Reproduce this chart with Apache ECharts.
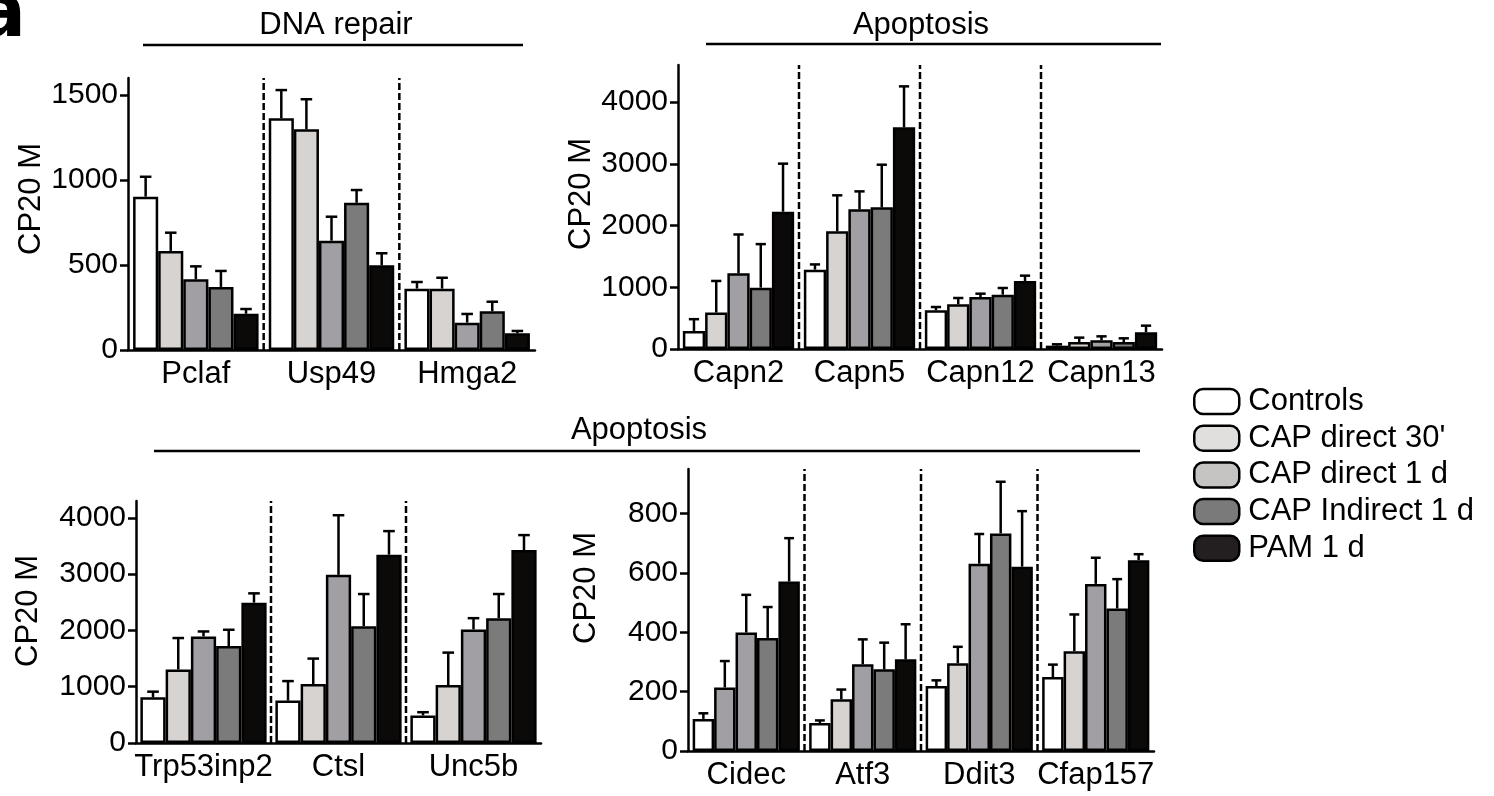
<!DOCTYPE html>
<html><head><meta charset="utf-8">
<script src="https://cdn.jsdelivr.net/npm/echarts@6/dist/echarts.min.js"></script>
<style>html,body{margin:0;padding:0;background:#fff}#c{width:1494px;height:796px}</style>
</head><body><div id="c"></div>
<script>
// ---------- data ----------
const groups = ['Controls', "CAP direct 30'", 'CAP direct 1 d', 'CAP Indirect 1 d', 'PAM 1 d'];

// DNA repair (top left)
const dnaGenes = ['Pclaf', 'Usp49', 'Hmga2'];
const dnaMean = [[902,1363,361],[583,1298,361],[416,643,161],[371,866,228],[213,498,98]];
const dnaErr  = [[117,166,39],[107,177,64],[76,141,51],[94,75,56],[28,71,14]];
const dnaTicks = [0,500,1000,1500];

// Apoptosis, calpains (top right)
const capnGenes = ['Capn2', 'Capn5', 'Capn12', 'Capn13'];
const capnMean = [[293,1285,626,54],[590,1906,723,113],[1225,2262,842,140],[994,2294,880,113],[2224,3590,1101,270]];
const capnErr  = [[190,85,54,22],[512,583,103,71],[630,291,54,65],[705,691,108,60],[778,664,87,108]];
const capnTicks = [0,1000,2000,3000,4000];

// Apoptosis (bottom left)
const apoGenes = ['Trp53inp2', 'Ctsl', 'Unc5b'];
const apoMean = [[812,753,488],[1306,1047,1029],[1894,2988,2018],[1724,2076,2218],[2494,3347,3429]];
const apoErr  = [[100,347,59],[559,453,577],[88,1059,200],[288,571,429],[165,418,265]];
const apoTicks = [0,1000,2000,3000,4000];

// Apoptosis (bottom right)
const apo2Genes = ['Cidec', 'Atf3', 'Ddit3', 'Cfap157'];
const apo2Mean = [[108,94,219,249],[214,174,296,336],[399,292,631,563],[381,275,733,480],[571,309,621,643]];
const apo2Err  = [[19,9,19,42],[89,33,55,124],[127,84,100,88],[104,90,174,99],[146,118,187,20]];
const apo2Ticks = [0,200,400,600,800];

// ---------- styles ----------
const barColors = ['#ffffff', '#d6d3d1', '#a29fa4', '#7c7b7c', '#0c0909'];
const legendColors = ['#ffffff', '#e1dfde', '#c5c4c2', '#7b7a7a', '#231f20'];
const FONT = 'Liberation Sans';
const FS = 31;      // text labels, titles, legend
const FS_TICK = 30; // numeric tick labels

const panels = [
  {genes: dnaGenes, mean: dnaMean, err: dnaErr, ticks: dnaTicks, max: 1600,
   grid: {left:128, top:78, width:407, height:272}, gap: 7.5, nameGap: 78, nameShift: 15},
  {genes: capnGenes, mean: capnMean, err: capnErr, ticks: capnTicks, max: 4600,
   grid: {left:678, top:65, width:484, height:284}, gap: 8, nameGap: 74, nameShift: 13},
  {genes: apoGenes, mean: apoMean, err: apoErr, ticks: apoTicks, max: 4300,
   grid: {left:136, top:501, width:405, height:242}, gap: 6.5, nameGap: 92, nameShift: 11},
  {genes: apo2Genes, mean: apo2Mean, err: apo2Err, ticks: apo2Ticks, max: 950,
   grid: {left:688, top:469, width:466, height:282}, gap: 8, nameGap: 86, nameShift: 22}
];
// In the Cidec group the "CAP direct 30'" bar is drawn in the mid-gray of "CAP direct 1 d"
const colorOverride = {panel: 3, group: 1, index: 0, colorOf: 2};

function makeErr(gapPct){
  return function(params, api){
    const ci = api.value(0), top = api.value(1), m = api.value(2), gi = api.value(3);
    const band = api.size([1, 0])[0];
    const bw = band * (1 - gapPct/100) / groups.length;
    const cx = api.coord([ci, 0])[0] + (gi - (groups.length-1)/2) * bw;
    const yTop = api.coord([ci, top])[1];
    const yBar = api.coord([ci, m])[1];
    const cap = bw * 0.46;
    const st = {stroke:'#000', lineWidth:2.5, fill:null};
    return {type:'group', children:[
      {type:'line', shape:{x1:cx, y1:yBar, x2:cx, y2:yTop}, style:st},
      {type:'line', shape:{x1:cx-cap/2, y1:yTop, x2:cx+cap/2, y2:yTop}, style:st}
    ]};
  };
}
function sepRender(params, api){
  const ci = api.value(0);
  const band = api.size([1, 0])[0];
  const x = api.coord([ci, 0])[0] + band/2;
  const y0 = api.coord([ci, 0])[1];
  const y1 = params.coordSys.y;
  return {type:'line', shape:{x1:x, y1:y0, x2:x, y2:y1},
          style:{stroke:'#000', lineWidth:2.5, lineDash:[7,3], fill:null}};
}

const grid = [], xAxis = [], yAxis = [], series = [];
panels.forEach((p, pi) => {
  grid.push(Object.assign({containLabel:false}, p.grid));
  xAxis.push({type:'category', gridIndex:pi, data:p.genes,
    axisLine:{show:true, lineStyle:{color:'#000', width:2.5}},
    axisTick:{show:false},
    axisLabel:{fontSize:FS, color:'#000', fontFamily:FONT, margin:9, interval:0}});
  yAxis.push({type:'value', gridIndex:pi, min:0, max:p.max,
    name:'CP20 M', nameLocation:'middle', nameGap:p.nameGap,
    nameTextStyle:{fontSize:FS, color:'#000', fontFamily:FONT, padding:[0,0,0,2*p.nameShift]},
    axisLine:{show:true, lineStyle:{color:'#000', width:2.5}},
    axisTick:{show:true, length:8, lineStyle:{color:'#000', width:2.5}, customValues:p.ticks},
    axisLabel:{fontSize:FS_TICK, color:'#000', fontFamily:FONT, margin:10, customValues:p.ticks,
      formatter:v => String(v)},
    splitLine:{show:false}});
  groups.forEach((g, gi) => {
    series.push({type:'bar', name:g, xAxisIndex:pi, yAxisIndex:pi,
      barGap:'0%', barCategoryGap:p.gap + '%', silent:true, z:2,
      itemStyle:{color:barColors[gi], borderColor:'#000', borderWidth:2.5},
      data:p.mean[gi].map((v, ci) => {
        if (pi === colorOverride.panel && gi === colorOverride.group && ci === colorOverride.index)
          return {value:v, itemStyle:{color:barColors[colorOverride.colorOf]}};
        return v;
      })});
  });
  const errData = [];
  groups.forEach((g, gi) => p.mean[gi].forEach((v, ci) => errData.push([ci, v + p.err[gi][ci], v, gi])));
  series.push({type:'custom', xAxisIndex:pi, yAxisIndex:pi, z:3, silent:true,
    renderItem:makeErr(p.gap), encode:{x:0, y:1}, data:errData});
  series.push({type:'custom', xAxisIndex:pi, yAxisIndex:pi, z:1, silent:true, clip:false,
    renderItem:sepRender, encode:{x:0, y:1}, data:p.genes.slice(1).map((_, i) => [i, 0])});
});

const titleText = (t, cx, cy) => ({type:'text', x:cx, y:cy,
  style:{text:t, font:FS + 'px "' + FONT + '"', fill:'#000', textAlign:'center', textVerticalAlign:'middle'}});
const hline = (x1, x2, y) => ({type:'line', shape:{x1, y1:y, x2, y2:y}, style:{stroke:'#000', lineWidth:2.5}});

const option = {
  animation:false,
  backgroundColor:'#fff',
  textStyle:{fontFamily:FONT},
  grid, xAxis, yAxis, series,
  legend:{orient:'vertical', left:1188, top:381, itemWidth:45, itemHeight:25, itemGap:5.7,
    selectedMode:false,
    icon:'path://M9,0 H36 A9,9 0 0 1 45,9 V16 A9,9 0 0 1 36,25 H9 A9,9 0 0 1 0,16 V9 A9,9 0 0 1 9,0 Z',
    itemStyle:{borderColor:'#000', borderWidth:2.5},
    textStyle:{fontSize:FS, color:'#000', fontFamily:FONT, padding:[0,0,0,4]},
    data:groups.map((g, i) => ({name:g, itemStyle:{color:legendColors[i], borderColor:'#000', borderWidth:2.5}}))},
  graphic:[
    {type:'text', x:-24, y:-20, style:{text:'a', font:'bold 74px "DejaVu Sans"', fill:'#000'}},
    titleText('DNA repair', 336, 25), hline(143, 523, 45),
    titleText('Apoptosis', 921, 25), hline(706, 1161, 44),
    titleText('Apoptosis', 639, 430), hline(154, 1140, 451)
  ]
};
const chart = echarts.init(document.getElementById('c'), null, {renderer:'canvas'});
chart.setOption(option);
</script></body></html>
